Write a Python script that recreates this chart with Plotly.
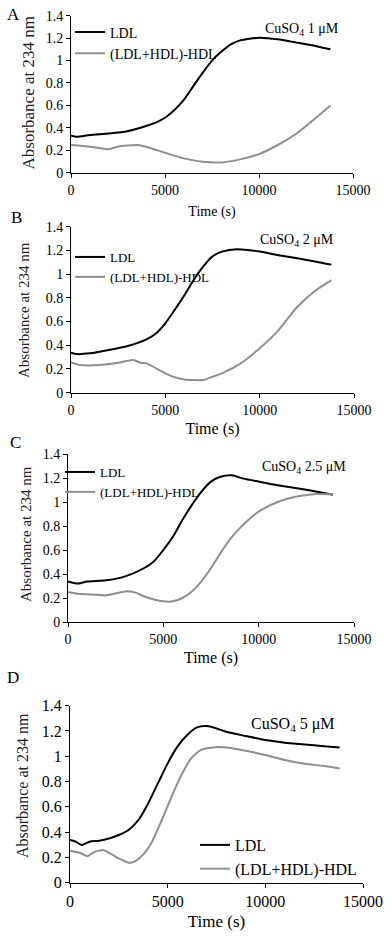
import plotly.graph_objects as go

# ---------------- data ----------------
# Panel A: CuSO4 1 uM
t_ldl_A = [0, 300, 1000, 2000, 3000, 4000, 4500, 5000, 5500, 6000, 6500, 7000, 7500, 8000, 8500, 9000, 10000, 11000, 12000, 13000, 13800]
v_ldl_A = [0.33, 0.32, 0.336, 0.35, 0.37, 0.416, 0.446, 0.49, 0.56, 0.65, 0.77, 0.89, 1.0, 1.08, 1.145, 1.18, 1.204, 1.19, 1.16, 1.13, 1.10]
t_hdl_A = [0, 1000, 2000, 2500, 3500, 4000, 5000, 6000, 7000, 8000, 9000, 10000, 11000, 12000, 13000, 13800]
v_hdl_A = [0.247, 0.232, 0.21, 0.232, 0.247, 0.232, 0.178, 0.128, 0.098, 0.092, 0.119, 0.166, 0.247, 0.35, 0.485, 0.60]

# Panel B: CuSO4 2 uM
t_ldl_B = [0, 300, 1000, 2000, 3000, 4000, 4500, 5000, 5500, 6000, 6500, 7000, 7500, 8000, 8800, 10000, 11000, 12000, 13000, 13800]
v_ldl_B = [0.337, 0.326, 0.332, 0.36, 0.394, 0.45, 0.50, 0.585, 0.70, 0.82, 0.95, 1.063, 1.15, 1.19, 1.21, 1.19, 1.16, 1.133, 1.105, 1.08]
t_hdl_B = [0, 500, 1500, 2500, 3300, 3700, 4000, 5000, 5500, 6000, 7000, 7500, 8000, 9000, 10000, 11000, 12000, 13000, 13800]
v_hdl_B = [0.256, 0.233, 0.233, 0.253, 0.275, 0.253, 0.247, 0.163, 0.13, 0.112, 0.107, 0.135, 0.163, 0.247, 0.374, 0.528, 0.725, 0.866, 0.95]

# Panel C: CuSO4 2.5 uM
t_ldl_C = [0, 500, 1000, 2000, 3000, 4000, 4500, 5000, 5500, 6000, 6500, 7000, 7500, 8000, 8600, 9200, 10000, 11000, 12000, 13000, 13900]
v_ldl_C = [0.338, 0.32, 0.338, 0.347, 0.38, 0.45, 0.505, 0.60, 0.71, 0.85, 0.976, 1.087, 1.17, 1.21, 1.222, 1.195, 1.17, 1.14, 1.115, 1.087, 1.06]
t_hdl_C = [0, 500, 1500, 2000, 3000, 3500, 4000, 5000, 5500, 6000, 6500, 7000, 7500, 8000, 8500, 9000, 10000, 11000, 12000, 13000, 13900]
v_hdl_C = [0.25, 0.236, 0.227, 0.222, 0.255, 0.247, 0.213, 0.172, 0.172, 0.2, 0.255, 0.338, 0.45, 0.574, 0.69, 0.78, 0.92, 1.0, 1.045, 1.067, 1.065]

# Panel D: CuSO4 5 uM
t_ldl_D = [0, 300, 600, 1000, 1500, 2000, 2500, 3000, 3500, 4000, 4500, 5000, 5500, 6000, 6500, 7000, 7500, 8000, 9000, 10000, 11000, 12000, 13000, 13800]
v_ldl_D = [0.337, 0.324, 0.298, 0.324, 0.332, 0.35, 0.377, 0.417, 0.496, 0.627, 0.786, 0.944, 1.076, 1.168, 1.228, 1.239, 1.22, 1.194, 1.16, 1.128, 1.107, 1.094, 1.08, 1.07]
t_hdl_D = [0, 500, 900, 1200, 1700, 2000, 2500, 3000, 3300, 3800, 4200, 4700, 5200, 5700, 6200, 6700, 7300, 8000, 9000, 10000, 11000, 12000, 13000, 13800]
v_hdl_D = [0.253, 0.237, 0.21, 0.24, 0.258, 0.237, 0.192, 0.158, 0.166, 0.232, 0.324, 0.496, 0.68, 0.85, 0.983, 1.05, 1.07, 1.07, 1.044, 1.01, 0.97, 0.94, 0.923, 0.904]

panel_letters = ["A", "B", "C", "D"]
cuso4_labels = ["CuSO<sub>4</sub> 1 \u03bcM", "CuSO<sub>4</sub> 2 \u03bcM", "CuSO<sub>4</sub> 2.5 \u03bcM", "CuSO<sub>4</sub> 5 \u03bcM"]
series_names = ["LDL", "(LDL+HDL)-HDL"]
x_title = "Time (s)"
y_title = "Absorbance at 234 nm"
x_ticks = [0, 5000, 10000, 15000]
y_ticks = [0, 0.2, 0.4, 0.6, 0.8, 1, 1.2, 1.4]

# ---------------- layout ----------------
W, H = 391, 939
FONT = "Liberation Serif"
BLACK = "#000000"
GRAY = "#8f8f8f"

panels = [
    dict(t1=t_ldl_A, v1=v_ldl_A, t2=t_hdl_A, v2=v_hdl_A,
         box=(71, 353, 15.7, 172.7), tick=14, ytitle=17, xtitle=14, xstand=9, leg=14, cu=14,
         leg_xy=(111, 31.5), cu_xy=(302, 29), let_xy=(13, 15), yt_xy=(28.5, 93)),
    dict(t1=t_ldl_B, v1=v_ldl_B, t2=t_hdl_B, v2=v_hdl_B,
         box=(71, 354, 226.7, 392.7), tick=14, ytitle=15, xtitle=16, xstand=6, leg=13, cu=14,
         leg_xy=(111, 257), cu_xy=(297, 240), let_xy=(16, 218), yt_xy=(24, 310)),
    dict(t1=t_ldl_C, v1=v_ldl_C, t2=t_hdl_C, v2=v_hdl_C,
         box=(68, 354, 454, 622), tick=14, ytitle=15, xtitle=16, xstand=6, leg=13, cu=14,
         leg_xy=(101, 472), cu_xy=(304, 467), let_xy=(15, 442), yt_xy=(26, 534)),
    dict(t1=t_ldl_D, v1=v_ldl_D, t2=t_hdl_D, v2=v_hdl_D,
         box=(70, 363, 705.7, 882.7), tick=16, ytitle=16, xtitle=17, xstand=6, leg=16, cu=16,
         leg_xy=(236, 843), cu_xy=(293, 724), let_xy=(13, 677), yt_xy=(22, 786)),
]

fig = go.Figure()
annotations = []
layout_axes = {}

for i, p in enumerate(panels):
    n = i + 1
    xa = "x" if n == 1 else f"x{n}"
    ya = "y" if n == 1 else f"y{n}"
    lg = "legend" if n == 1 else f"legend{n}"
    x0, x1, y0, y1 = p["box"]
    for (tt, vv, name, col) in [(p["t1"], p["v1"], series_names[0], BLACK),
                                (p["t2"], p["v2"], series_names[1], GRAY)]:
        fig.add_trace(go.Scatter(
            x=tt, y=vv, mode="lines", name=name,
            line=dict(color=col, width=2, shape="spline", smoothing=0.6),
            xaxis=xa, yaxis=ya, legend=lg, showlegend=True,
        ))
    xkey = "xaxis" if n == 1 else f"xaxis{n}"
    ykey = "yaxis" if n == 1 else f"yaxis{n}"
    layout_axes[xkey] = dict(
        domain=[x0 / W, x1 / W], anchor=ya, range=[0, 15000], automargin=False,
        tickmode="array", tickvals=x_ticks, ticktext=[str(v) for v in x_ticks],
        ticks="outside", ticklen=4, tickcolor=BLACK, showline=True, linecolor=BLACK,
        linewidth=1, showgrid=False, zeroline=False,
        tickfont=dict(family=FONT, size=p["tick"], color=BLACK),
        title=dict(text=x_title, font=dict(family=FONT, size=p["xtitle"], color=BLACK), standoff=p["xstand"]),
    )
    layout_axes[ykey] = dict(
        domain=[1 - y1 / H, 1 - y0 / H], anchor=xa, range=[0, 1.4], automargin=False,
        tickmode="array", tickvals=y_ticks, ticktext=[f"{v:g}" for v in y_ticks],
        ticks="outside", ticklen=4, tickcolor=BLACK, showline=True, linecolor=BLACK,
        linewidth=1, showgrid=False, zeroline=False,
        tickfont=dict(family=FONT, size=p["tick"], color=BLACK),
    )
    lx, ly = p["leg_xy"]
    layout_axes[lg] = dict(
        x=(lx - 41) / W, xanchor="left", y=1 - (ly - 15) / H, yanchor="top",
        bgcolor="rgba(0,0,0,0)", borderwidth=0,
        font=dict(family=FONT, size=p["leg"], color=BLACK),
        tracegroupgap=0, itemwidth=30,
    )
    tx, ty = p["yt_xy"]
    annotations.append(dict(
        text=y_title, x=tx / W, y=1 - ty / H, xref="paper", yref="paper",
        xanchor="center", yanchor="middle", showarrow=False, textangle=-90,
        font=dict(family=FONT, size=p["ytitle"], color="#222222"),
    ))
    cx, cy = p["cu_xy"]
    annotations.append(dict(
        text=cuso4_labels[i], x=cx / W, y=1 - cy / H, xref="paper", yref="paper",
        xanchor="center", yanchor="middle", showarrow=False,
        font=dict(family=FONT, size=p["cu"], color=BLACK),
    ))
    ax_, ay_ = p["let_xy"]
    annotations.append(dict(
        text=panel_letters[i], x=ax_ / W, y=1 - ay_ / H, xref="paper", yref="paper",
        xanchor="center", yanchor="middle", showarrow=False,
        font=dict(family=FONT, size=17, color=BLACK),
    ))

fig.update_layout(
    width=W, height=H,
    margin=dict(l=0, r=0, t=0, b=0),
    paper_bgcolor="white", plot_bgcolor="white",
    annotations=annotations,
    **layout_axes,
)

fig.write_html(
    "out.html",
    config={"displayModeBar": False},
    post_script="document.body.style.margin='0px';document.body.style.padding='0px';",
)
